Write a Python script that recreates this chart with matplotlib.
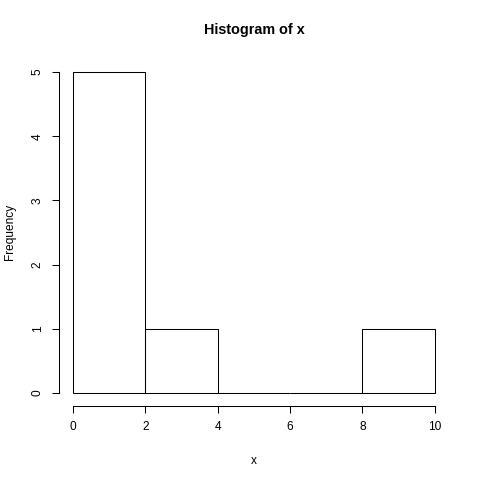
import matplotlib
matplotlib.use("Agg")
import matplotlib.pyplot as plt
import numpy as np

# histogram of x: bin edges and counts
bin_edges = [0, 2, 4, 6, 8, 10]
counts = [5, 1, 0, 0, 1]
x_ticks = [0, 2, 4, 6, 8, 10]
y_ticks = [0, 1, 2, 3, 4, 5]

plt.rcParams['font.family'] = ['Liberation Sans', 'DejaVu Sans']

fig = plt.figure(figsize=(4.8, 4.8), dpi=100)
ax = fig.add_axes([0.122, 0.1546, 0.814, 0.7221])

lefts = np.array(bin_edges[:-1])
widths = np.diff(bin_edges)
ax.bar(lefts, counts, width=widths, align='edge', facecolor='none',
       edgecolor='black', linewidth=0.75)

ax.set_xlim(-0.4, 10.4)
ax.set_ylim(-0.2, 5.2)

for s in ['top', 'right']:
    ax.spines[s].set_visible(False)
ax.spines['left'].set_bounds(0, 5)
ax.spines['bottom'].set_bounds(0, 10)
ax.spines['left'].set_linewidth(0.75)
ax.spines['bottom'].set_linewidth(0.75)

ax.set_xticks(x_ticks)
ax.set_yticks(y_ticks)
ax.set_yticklabels([str(v) for v in y_ticks], rotation=90, va='center')
ax.tick_params(length=5.2, width=0.75, labelsize=8.6, pad=5.5)

# title and labels placed like R's base graphics
fig.text(0.529, 1 - 30 / 480, "Histogram of x", fontsize=10.4,
         fontweight='bold', ha='center', va='center')
ax.set_xlabel("x", fontsize=8.6, labelpad=16)
fig.text(10 / 480, 1 - 232 / 480, "Frequency", fontsize=8.6,
         rotation=90, ha='center', va='center')

fig.savefig("out.png", dpi=100)
